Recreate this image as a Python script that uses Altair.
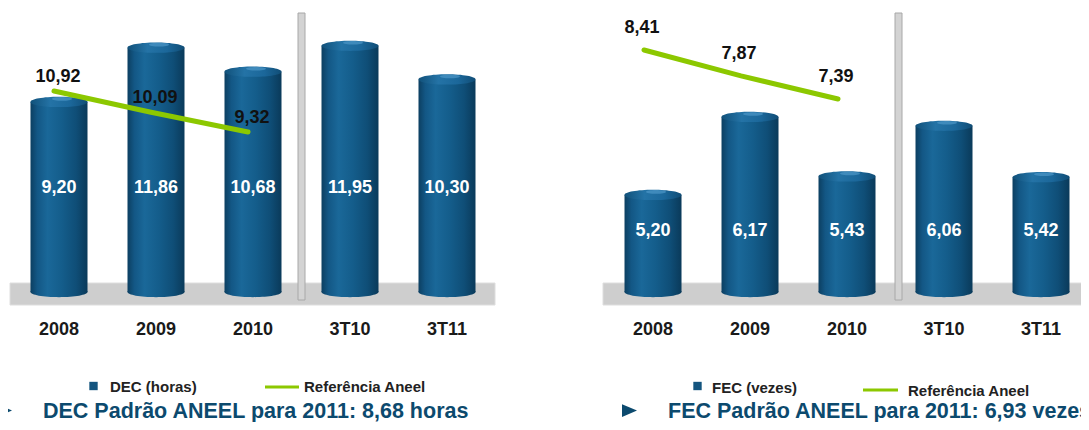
import altair as alt
import pandas as pd

# ---------------- data ----------------
categories = ["2008", "2009", "2010", "3T10", "3T11"]
dec_values = [9.20, 11.86, 10.68, 11.95, 10.30]
dec_ref = [10.92, 10.09, 9.32]
fec_values = [5.20, 6.17, 5.43, 6.06, 5.42]
fec_ref = [8.41, 7.87, 7.39]
ref_categories = ["2008", "2009", "2010"]
legend_left = ["DEC (horas)", "Referência Aneel"]
legend_right = ["FEC (vezes)", "Referência Aneel"]
note_left = ["DEC Padrão ANEEL para 2011: 8,68 horas"]
note_right = ["FEC Padrão ANEEL para 2011: 6,93 vezes"]

# ---------------- style ----------------
FONT = "Liberation Sans"
H = 414
GREEN = "#8cc800"
NOTE = "#0c4a6e"
ELL = "M -1 0 A 1 0.18 0 1 1 1 0 A 1 0.18 0 1 1 -1 0 Z"
TRI = "M -1 -0.85 L 1 0 L -1 0.85 Z"
BAR_W = 57

body_grad = alt.Gradient(
    gradient="linear", x1=0, x2=1, y1=0, y2=0,
    stops=[
        alt.GradientStop(offset=0.0, color="#0c3f61"),
        alt.GradientStop(offset=0.12, color="#135785"),
        alt.GradientStop(offset=0.3, color="#1a6899"),
        alt.GradientStop(offset=0.55, color="#145d8b"),
        alt.GradientStop(offset=0.8, color="#0f4e77"),
        alt.GradientStop(offset=1.0, color="#0a3a5a"),
    ],
)
cap_grad = alt.Gradient(
    gradient="linear", x1=0, x2=1, y1=0, y2=0,
    stops=[
        alt.GradientStop(offset=0.0, color="#11517a"),
        alt.GradientStop(offset=0.35, color="#2473a6"),
        alt.GradientStop(offset=0.7, color="#1b679a"),
        alt.GradientStop(offset=1.0, color="#104d76"),
    ],
)


def fmt(v):
    return f"{v:.2f}".replace(".", ",")


def panel(values, refs, legend, note, width, xpad, bar_domain, line_domain, bar_label_y,
          line_dy, line_xoff, label_xoff, sep_x, band_x0, lg, nt):
    xscale = alt.Scale(domain=categories, **xpad)
    X = alt.X("cat:N", scale=xscale, axis=None)
    ysc = alt.Scale(domain=bar_domain, zero=False, nice=False)
    lsc = alt.Scale(domain=line_domain, zero=False, nice=False)

    bars_df = pd.DataFrame({"cat": categories, "v": values,
                            "label": [fmt(v) for v in values]})
    ref_df = pd.DataFrame({"cat": ref_categories, "r": refs,
                           "label": [fmt(v) for v in refs]})
    one = pd.DataFrame({"d": [0]})

    band = alt.Chart(one).mark_rect(
        color="#cecece", stroke="#dedede", strokeWidth=1, clip=True
    ).encode(x=alt.value(band_x0), x2=alt.value(min(width + 5, 487)),
             y=alt.value(275), y2=alt.value(297))
    sep = alt.Chart(one).mark_rect(color="#d3d3d3", stroke="#a8a8a8", strokeWidth=1).encode(
        x=alt.value(sep_x), x2=alt.value(sep_x + 7), y=alt.value(5), y2=alt.value(292))

    bottom = alt.Chart(bars_df).mark_point(
        shape=ELL, size=BAR_W ** 2, filled=True, color=body_grad, opacity=1, strokeWidth=0
    ).encode(x=X, y=alt.value(284))
    body = alt.Chart(bars_df).mark_bar(color=body_grad, yOffset=5).encode(
        x=X, y=alt.Y("v:Q", scale=ysc, axis=None, stack=None), y2=alt.value(284))
    cap = alt.Chart(bars_df).mark_point(
        shape=ELL, size=BAR_W ** 2, filled=True, color=cap_grad, opacity=1,
        strokeWidth=0, yOffset=5
    ).encode(x=X, y=alt.Y("v:Q", scale=ysc, axis=None))
    hl = alt.Chart(bars_df).mark_point(
        shape=ELL, size=20 ** 2, filled=True, color="#4d97c8", opacity=0.7,
        strokeWidth=0, yOffset=2, xOffset=3
    ).encode(x=X, y=alt.Y("v:Q", scale=ysc, axis=None))
    blabels = alt.Chart(bars_df).mark_text(
        color="white", fontSize=18, fontWeight="bold", font=FONT, baseline="middle"
    ).encode(x=X, y=alt.value(bar_label_y), text="label:N")

    line = alt.Chart(ref_df).mark_line(
        color=GREEN, strokeWidth=5, strokeCap="round", xOffset=line_xoff
    ).encode(x=X, y=alt.Y("r:Q", scale=lsc, axis=None))
    llabels = alt.Chart(ref_df).mark_text(
        color="#111111", fontSize=18, fontWeight="bold", font=FONT, baseline="middle",
        dy=line_dy, xOffset=label_xoff
    ).encode(x=X, y=alt.Y("r:Q", scale=lsc, axis=None), text="label:N")

    clabels = alt.Chart(bars_df).mark_text(
        color="#1a1a1a", fontSize=18, fontWeight="bold", font=FONT, baseline="middle"
    ).encode(x=X, y=alt.value(322), text="cat:N")

    leg_marker = alt.Chart(one).mark_point(
        shape="square", size=70, filled=True, color="#14557f", opacity=1, strokeWidth=0
    ).encode(x=alt.value(lg["mx"]), y=alt.value(lg["my"]))
    leg_t1 = alt.Chart(one).mark_text(
        align="left", baseline="middle", fontSize=15, fontWeight="bold", font=FONT, color="#222222"
    ).encode(x=alt.value(lg["t1x"]), y=alt.value(lg["t1y"]), text=alt.value(legend[0]))
    leg_line = alt.Chart(one).mark_rule(color=GREEN, strokeWidth=3).encode(
        x=alt.value(lg["lx1"]), x2=alt.value(lg["lx2"]), y=alt.value(lg["ly"]))
    leg_t2 = alt.Chart(one).mark_text(
        align="left", baseline="middle", fontSize=15, fontWeight="bold", font=FONT, color="#222222"
    ).encode(x=alt.value(lg["t2x"]), y=alt.value(lg["t2y"]), text=alt.value(legend[1]))

    tri = alt.Chart(one).mark_point(
        shape=TRI, size=225, filled=True, color=NOTE, opacity=1, strokeWidth=0, clip=True
    ).encode(x=alt.value(nt["trx"]), y=alt.value(nt["try"]))
    note_t = alt.Chart(one).mark_text(
        align="left", baseline="alphabetic", fontSize=21.5, fontWeight="bold", font=FONT,
        color=NOTE, clip=True
    ).encode(x=alt.value(nt["tx"]), y=alt.value(nt["ty"]), text=alt.value(note[0]))

    return alt.layer(
        band, sep, bottom, body, cap, hl, blabels, line, llabels, clabels,
        leg_marker, leg_t1, leg_line, leg_t2, tri, note_t
    ).resolve_scale(y="independent").properties(width=width, height=H)


left = panel(
    dec_values, dec_ref, legend_left, note_left,
    width=490, xpad={"paddingInner": 0.4124, "paddingOuter": 0.232},
    bar_domain=[-6.735, 13.559], line_domain=[-2.010, 14.162],
    bar_label_y=180, line_dy=-14, line_xoff=-5, label_xoff=-1, sep_x=290, band_x0=2,
    lg={"mx": 85.5, "my": 378, "t1x": 102, "t1y": 379, "lx1": 257, "lx2": 291, "ly": 379,
        "t2x": 296, "t2y": 379},
    nt={"trx": -3.5, "try": 402.5, "tx": 35, "ty": 409.5},
)
right = panel(
    fec_values, fec_ref, legend_right, note_right,
    width=479, xpad={"paddingInner": 0.4124, "paddingOuter": 0.1753, "align": 0.662},
    bar_domain=[2.313, 7.463], line_domain=[0.66, 9.285],
    bar_label_y=223, line_dy=-22, line_xoff=-9, label_xoff=-11, sep_x=293, band_x0=1,
    lg={"mx": 95.5, "my": 378, "t1x": 110, "t1y": 380, "lx1": 261, "lx2": 296, "ly": 382,
        "t2x": 306, "t2y": 383},
    nt={"trx": 27.5, "try": 402.5, "tx": 66, "ty": 409.5},
)

chart = alt.hconcat(left, right, spacing=104, bounds="flush").properties(
    padding={"left": 0, "top": 0, "right": 0, "bottom": 0},
    background="white",
).configure_view(stroke=None)

chart.save("out.html", embed_options={"renderer": "svg", "actions": False})
